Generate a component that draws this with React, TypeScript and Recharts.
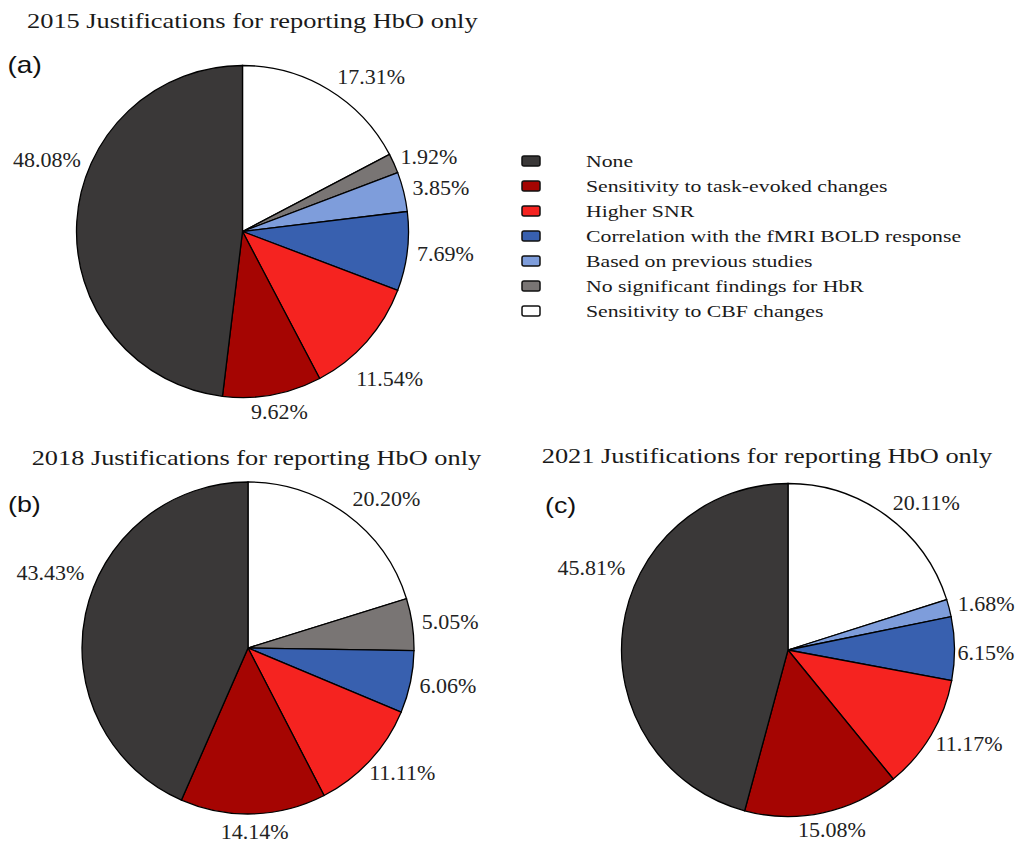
import React from 'react';
import { PieChart, Pie, Cell, Legend } from 'recharts';

// slice order goes clockwise from 12 o'clock
const categories = [
  'Sensitivity to CBF changes',
  'No significant findings for HbR',
  'Based on previous studies',
  'Correlation with the fMRI BOLD response',
  'Higher SNR',
  'Sensitivity to task-evoked changes',
  'None',
];
const share2015 = [17.31, 1.92, 3.85, 7.69, 11.54, 9.62, 48.08];
const share2018 = [20.2, 5.05, 0, 6.06, 11.11, 14.14, 43.43];
const share2021 = [20.11, 0, 1.68, 6.15, 11.17, 15.08, 45.81];

const titles = [
  '2015 Justifications for reporting HbO only',
  '2018 Justifications for reporting HbO only',
  '2021 Justifications for reporting HbO only',
];
const panelTags = ['(a)', '(b)', '(c)'];

const colors: Record<string, string> = {
  'Sensitivity to CBF changes': '#ffffff',
  'No significant findings for HbR': '#797574',
  'Based on previous studies': '#7e9ddb',
  'Correlation with the fMRI BOLD response': '#3860af',
  'Higher SNR': '#f52320',
  'Sensitivity to task-evoked changes': '#a50502',
  None: '#3a3838',
};

const SERIF = '"Liberation Serif", "Times New Roman", serif';
const SANS = '"Liberation Sans", Arial, sans-serif';
const LABEL_FS = 22;

const toRows = (vals: number[]) =>
  categories.map((name, i) => ({ name, value: vals[i] })).filter((d) => d.value > 0);

// hand-moved labels in the original figure
type Nudge = Record<string, [number, number]>;
const nudgeA: Nudge = {
  'Sensitivity to CBF changes': [20, 2],
  'Higher SNR': [-10, 25],
  None: [14, -61],
};
const nudgeB: Nudge = {
  'Sensitivity to CBF changes': [14, -2],
  None: [8, -38],
};
const nudgeC: Nudge = {
  'Sensitivity to CBF changes': [14, 1],
  'Correlation with the fMRI BOLD response': [-7, 4],
  None: [12, -58],
};

const makeLabel = (nudge: Nudge) => (props: any) => {
  const { cx, cy, midAngle, outerRadius, value, name } = props;
  const a = (midAngle * Math.PI) / 180;
  const c = Math.cos(a);
  const s = Math.sin(a);
  const r = outerRadius + 10;
  const text = `${Number(value).toFixed(2)}%`;
  const w = text.length * 0.515 * LABEL_FS;
  const h = 0.68 * LABEL_FS;
  const [dx, dy] = nudge[name] || [0, 0];
  const x = cx + r * c + (c * w) / 2 + dx;
  const y = cy - r * s - (s * h) / 2 + dy;
  return (
    <text
      x={x}
      y={y + h / 2}
      textAnchor="middle"
      fontFamily={SERIF}
      fontSize={LABEL_FS}
      fill="#222"
    >
      {text}
    </text>
  );
};

// legend lists the slices bottom-up: None first, CBF last
const legendOrder = (item: any) => -categories.indexOf(item.value);

const LegendBox = (props: any) => {
  const items = props.payload || [];
  return (
    <svg width={460} height={185}>
      {items.map((it: any, i: number) => {
        const yc = 16 + i * 25;
        return (
          <g key={it.value}>
            <rect
              x={7}
              y={yc - 5}
              width={18}
              height={10}
              rx={2}
              fill={colors[it.value]}
              stroke="#111"
              strokeWidth={1.5}
            />
            <text
              transform={`translate(71, ${yc + 6}) scale(1.28, 1)`}
              fontFamily={SERIF}
              fontSize={17}
              fill="#1a1a1a"
            >
              {it.value}
            </text>
          </g>
        );
      })}
    </svg>
  );
};

const Panel = ({
  rows,
  cx,
  cy,
  r,
  nudge,
  legend,
}: {
  rows: { name: string; value: number }[];
  cx: number;
  cy: number;
  r: number;
  nudge: Nudge;
  legend?: boolean;
}) => (
  <>
    <Pie
      data={rows}
      dataKey="value"
      nameKey="name"
      cx={cx}
      cy={cy}
      outerRadius={r}
      startAngle={90}
      endAngle={-270}
      stroke="#000"
      strokeWidth={1.3}
      label={makeLabel(nudge)}
      labelLine={false}
      isAnimationActive={false}
    >
      {rows.map((d) => (
        <Cell key={d.name} fill={colors[d.name]} />
      ))}
    </Pie>
    {legend && (
      <Legend
        layout="vertical"
        align="right"
        verticalAlign="middle"
        itemSorter={legendOrder}
        content={<LegendBox />}
        wrapperStyle={{ position: 'absolute', left: 515, top: 145, width: 460, height: 185 }}
      />
    )}
  </>
);

const noMargin = { top: 0, right: 0, bottom: 0, left: 0 };

export default function App() {
  const rows15 = toRows(share2015);
  const rows18 = toRows(share2018);
  const rows21 = toRows(share2021);
  return (
    <div
      style={{
        position: 'absolute',
        left: 0,
        top: 0,
        width: 1017,
        height: 846,
        background: '#fff',
        overflow: 'hidden',
      }}
    >
      <div style={{ position: 'absolute', left: 0, top: 0 }}>
        <PieChart width={1017} height={440} margin={noMargin}>
          {Panel({ rows: rows15, cx: 242.5, cy: 231.5, r: 166, nudge: nudgeA, legend: true })}
        </PieChart>
      </div>
      <div style={{ position: 'absolute', left: 0, top: 430 }}>
        <PieChart width={508} height={416} margin={noMargin}>
          {Panel({ rows: rows18, cx: 248, cy: 218, r: 166, nudge: nudgeB })}
        </PieChart>
      </div>
      <div style={{ position: 'absolute', left: 508, top: 430 }}>
        <PieChart width={509} height={416} margin={noMargin}>
          {Panel({ rows: rows21, cx: 280, cy: 220, r: 166.5, nudge: nudgeC })}
        </PieChart>
      </div>
      <svg
        width={1017}
        height={846}
        style={{ position: 'absolute', left: 0, top: 0, pointerEvents: 'none' }}
      >
        <text transform="translate(27, 27.5) scale(1.2, 1)" fontFamily={SERIF} fontSize={22} fill="#1a1a1a">
          {titles[0]}
        </text>
        <text transform="translate(31.7, 464.5) scale(1.196, 1)" fontFamily={SERIF} fontSize={22} fill="#1a1a1a">
          {titles[1]}
        </text>
        <text transform="translate(541.7, 463) scale(1.2, 1)" fontFamily={SERIF} fontSize={22} fill="#1a1a1a">
          {titles[2]}
        </text>
        <text transform="translate(7.5, 73) scale(1.22, 1)" fontFamily={SANS} fontSize={23} fill="#111">
          {panelTags[0]}
        </text>
        <text transform="translate(8, 512) scale(1.22, 1)" fontFamily={SANS} fontSize={22} fill="#111">
          {panelTags[1]}
        </text>
        <text transform="translate(545, 513) scale(1.22, 1)" fontFamily={SANS} fontSize={22} fill="#111">
          {panelTags[2]}
        </text>
      </svg>
    </div>
  );
}
